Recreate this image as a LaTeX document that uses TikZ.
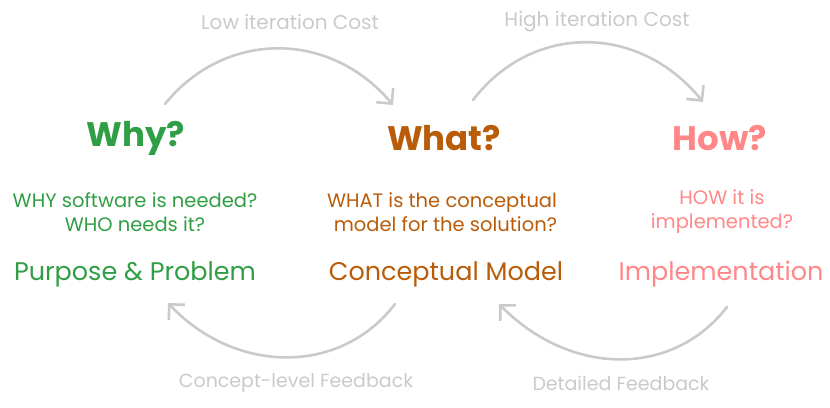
\documentclass[tikz,border=0pt]{standalone}
\usepackage{fontspec}
\setmainfont{Poppins}
\usetikzlibrary{arrows.meta}
\definecolor{cgreen}{HTML}{2F9E44}
\definecolor{corange}{HTML}{B85C0A}
\definecolor{cpink}{HTML}{FF8787}
\definecolor{cgray}{HTML}{CACACA}
\tikzset{
  title/.style={font=\fontsize{34}{40}\selectfont\bfseries, inner sep=0pt},
  sub/.style={font=\fontsize{19.5}{24}\selectfont, inner sep=0pt, align=center},
  big/.style={font=\fontsize{25.5}{28}\selectfont, inner sep=0pt},
  glabel/.style={font=\fontsize{20}{22}\selectfont, inner sep=0pt, text=cgray},
  blabel/.style={font=\fontsize{19}{22}\selectfont, inner sep=0pt, text=cgray},
  flow/.style={draw=cgray, line width=2.6pt, line cap=round, line join=round,
    -{Straight Barb[length=11pt,width=22pt,line width=2.6pt]}},
}
\begin{document}
\begin{tikzpicture}[x=1pt,y=-1pt]
\useasboundingbox (0,0) rectangle (830,407);
% labels
\node[glabel] (low) at (290,22) {Low iteration Cost};
\node[glabel] (high) at (597,22) {High iteration Cost};
\node[blabel] (clf) at (296,383) {Concept-level Feedback};
\node[blabel] (df) at (621,383) {Detailed Feedback};
% columns
\node[title, text=cgreen] (why) at (136,138) {Why?};
\node[sub, text=cgreen] (whysub) at (135,212) {WHY software is needed?\\WHO needs it?};
\node[big, text=cgreen] (purpose) at (135,274) {Purpose \& Problem};

\node[title, text=corange] (what) at (444,138) {What?};
\node[sub, text=corange, align=right] (whatsub) at (442,212) {WHAT is the conceptual\\model for the solution?};
\node[big, text=corange] (model) at (446,274) {Conceptual Model};

\node[title, text=cpink] (how) at (720,138) {How?};
\node[sub, text=cpink] (howsub) at (722,212) {HOW it is\\implemented?};
\node[big, text=cpink] (impl) at (721,274) {Implementation};
% arrow end points
\coordinate (a1s) at (165,104);
\coordinate (a1e) at (393,105);
\coordinate (a2s) at (473,100);
\coordinate (a2e) at (703,102);
\coordinate (a3s) at (395,304);
\coordinate (a3e) at (168,303);
\coordinate (a4s) at (727,307);
\coordinate (a4e) at (499,304);
\draw[flow] (a1s) .. controls (225,30) and (330,30) .. (a1e);
\draw[flow] (a2s) .. controls (533,22) and (640,24) .. (a2e);
\draw[flow] (a3s) .. controls (340,376) and (235,374) .. (a3e);
\draw[flow] (a4s) .. controls (672,378) and (570,376) .. (a4e);
\end{tikzpicture}
\end{document}
